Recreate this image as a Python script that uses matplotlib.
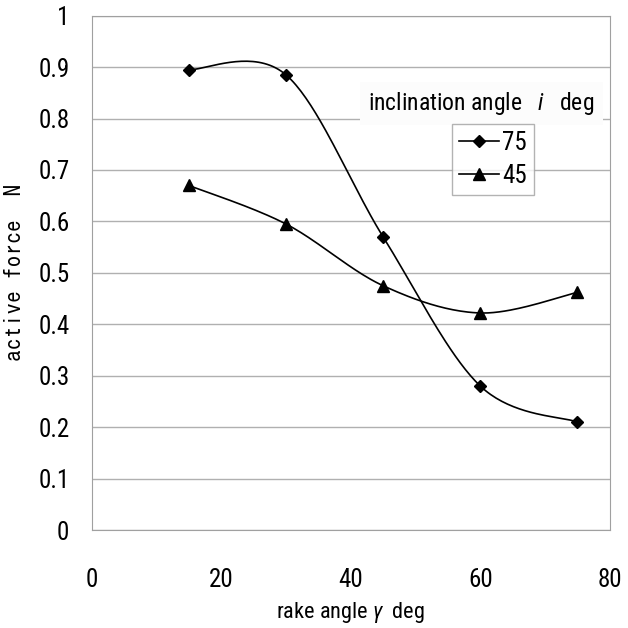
import numpy as np
import matplotlib
matplotlib.use('Agg')
import matplotlib.pyplot as plt

plt.rcParams['font.family'] = ['Roboto Condensed', 'DejaVu Sans']
plt.rcParams['mathtext.fontset'] = 'custom'
plt.rcParams['mathtext.it'] = 'Roboto Condensed:italic'
plt.rcParams['mathtext.rm'] = 'Roboto Condensed'

rake_angle = [15, 30, 45, 60, 75]
force_75 = [0.895, 0.885, 0.570, 0.280, 0.210]
force_45 = [0.670, 0.595, 0.475, 0.422, 0.462]
series_labels = ['75', '45']
x_ticks = [0, 20, 40, 60, 80]
y_ticks = [0, 0.1, 0.2, 0.3, 0.4, 0.5, 0.6, 0.7, 0.8, 0.9, 1]


def smooth(xs, ys, steps=40):
    # Catmull-Rom style smoothing, like a spreadsheet "smoothed line"
    p = np.column_stack([xs, ys]).astype(float)
    p = np.vstack([p[0], p, p[-1]])
    out = []
    t = np.linspace(0, 1, steps)[:, None]
    for i in range(1, len(p) - 2):
        p0, p1, p2, p3 = p[i - 1], p[i], p[i + 1], p[i + 2]
        m1 = (p2 - p0) / 2
        m2 = (p3 - p1) / 2
        h00 = 2 * t**3 - 3 * t**2 + 1
        h10 = t**3 - 2 * t**2 + t
        h01 = -2 * t**3 + 3 * t**2
        h11 = t**3 - t**2
        out.append(h00 * p1 + h10 * m1 + h01 * p2 + h11 * m2)
    c = np.vstack(out)
    return c[:, 0], c[:, 1]


fig = plt.figure(figsize=(6.28, 6.28), dpi=100)
ax = fig.add_axes([0.146, 0.156, 0.825, 0.819])

handles = []
for ys, marker, ms, label in [(force_75, 'D', 6, series_labels[0]),
                              (force_45, '^', 8, series_labels[1])]:
    sx, sy = smooth(rake_angle, ys)
    ax.plot(sx, sy, color='black', lw=1.2)
    ax.plot(rake_angle, ys, linestyle='none', marker=marker, ms=ms, color='black')
    h, = ax.plot([], [], color='black', lw=1.2, marker=marker, ms=ms, label=label)
    handles.append(h)

ax.set_xlim(0, 80)
ax.set_ylim(0, 1)
ax.set_xticks(x_ticks)
ax.set_yticks(y_ticks)
ax.set_yticklabels([f'{v:g}' for v in y_ticks])
ax.tick_params(axis='both', labelsize=18, length=0)
ax.tick_params(axis='y', pad=16)
ax.tick_params(axis='x', pad=27)
ax.grid(axis='y', color='#b0b0b0', lw=1)
ax.set_axisbelow(True)
for s in ax.spines.values():
    s.set_color('#a0a0a0')

ax.set_xlabel('rake angle $\\gamma$  deg', fontsize=16, labelpad=6)
ax.set_ylabel('active force  N', fontsize=17, labelpad=10, family='IPAGothic')

ax.text(0.752, 0.829, 'inclination angle   $i$   deg', transform=ax.transAxes,
        ha='center', va='center', fontsize=17,
        bbox=dict(facecolor='#fcfcfc', edgecolor='none', pad=6))
leg = ax.legend(handles=handles, loc='upper left', bbox_to_anchor=(0.695, 0.79),
                fontsize=18, frameon=True, fancybox=False, handlelength=1.6,
                handletextpad=0.1, borderpad=0.3, labelspacing=0.35, borderaxespad=0)
leg.get_frame().set_edgecolor('#a0a0a0')
leg.get_frame().set_linewidth(1)

fig.savefig('out.png', dpi=100)
